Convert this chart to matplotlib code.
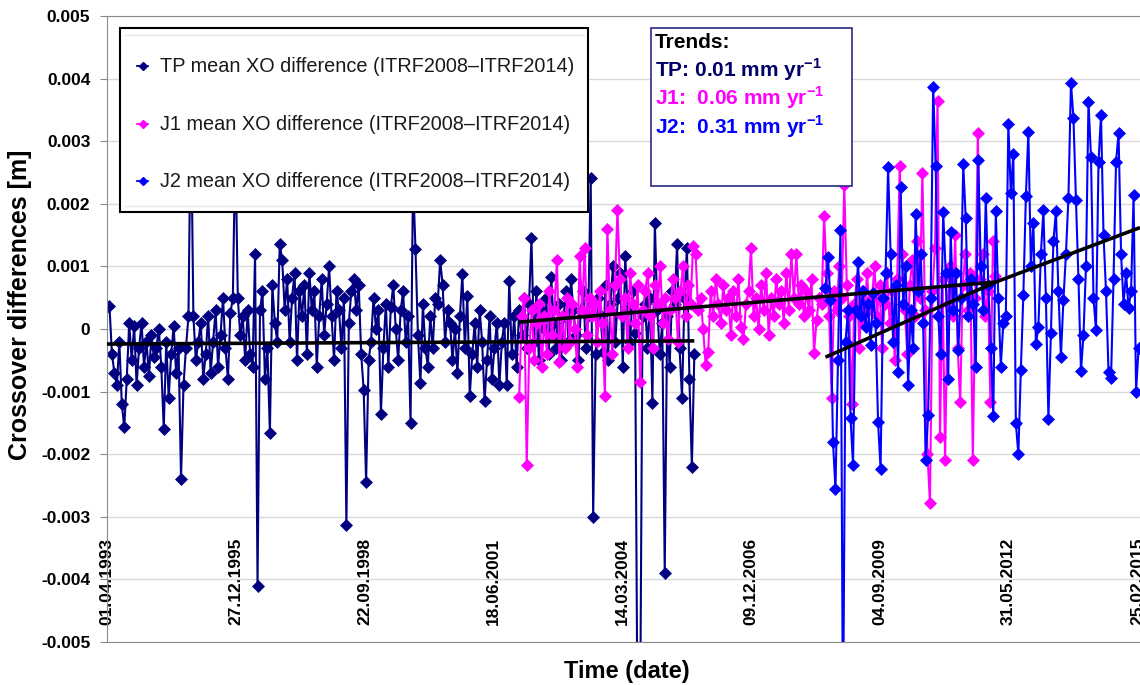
import numpy as np
import pandas as pd
import matplotlib.pyplot as plt
from matplotlib.lines import Line2D
from matplotlib.patches import Rectangle

plt.rcParams['font.family'] = ['Liberation Sans', 'DejaVu Sans']
plt.rcParams['mathtext.fontset'] = 'custom'
plt.rcParams['mathtext.rm'] = 'Liberation Sans'
plt.rcParams['mathtext.bf'] = 'Liberation Sans:bold'

# ---- data (mean crossover differences, in mm) ----
t0 = pd.Timestamp('1993-04-01')
x_end = '2015-03-17'

tp_first, tp_last = '1993-04-01', '2005-09-25'
j1_first, j1_last = '2002-01-04', '2012-02-19'
j2_first, j2_last = '2008-07-09', '2015-03-06'

tp_mm = [
    0.35, 0.37, -0.4, -0.7, -0.9, -0.2, -1.2, -1.57, -0.8, 0.1,
    -0.5, 0.05, -0.9, -0.3, 0.1, -0.6, -0.2, -0.75, -0.1, -0.45,
    -0.3, 0.0, -0.6, -1.6, -0.2, -1.1, -0.4, 0.05, -0.7, -0.3,
    -2.4, -0.9, -0.3, 0.2, 3.6, 0.2, -0.5, -0.2, 0.1, -0.8,
    -0.4, 0.2, -0.7, -0.2, 0.3, -0.6, -0.1, 0.5, -0.3, -0.8,
    0.25, 0.5, 3.0, 0.5, -0.1, 0.2, -0.5, 0.3, -0.4, -0.6,
    1.2, -4.1, 0.3, 0.6, -0.8, -0.3, -1.66, 0.7, 0.1, -0.2,
    1.36, 1.1, 0.3, 0.8, -0.2, 0.5, 0.9, -0.5, 0.6, 0.2,
    0.7, -0.4, 0.9, 0.3, 0.6, -0.6, 0.2, 0.8, -0.1, 0.4,
    1.0, 0.2, -0.5, 0.6, 0.3, -0.3, 0.5, -3.13, 0.1, 0.6,
    0.8, 0.3, 0.7, -0.4, -0.97, -2.44, -0.5, -0.2, 0.5, 0.0,
    0.3, -1.35, -0.3, 0.4, -0.6, 0.35, 0.7, 0.0, -0.5, 0.3,
    0.6, -0.2, 0.2, -1.5, 2.4, 1.28, -0.1, -0.87, 0.4, -0.3,
    -0.6, 0.2, -0.3, 0.5, 0.4, 1.1, 0.7, -0.2, 0.3, 0.1,
    -0.5, 0.0, -0.7, 0.2, 0.88, -0.3, 0.53, -1.07, -0.4, 0.1,
    -0.6, 0.3, -0.2, -1.15, -0.5, 0.2, -0.8, -0.3, 0.1, -0.9,
    -0.2, 0.1, -0.9, 0.77, -0.4, 0.2, -0.6, 0.3, -0.1, 0.5,
    -0.3, 0.4, 1.45, -0.2, 0.6, -0.5, 0.3, 0.0, 0.5, -0.4,
    0.83, 0.1, -0.3, 0.4, -0.5, 0.2, 0.6, -0.2, 0.8, 0.3,
    -0.1, -0.5, 0.3, 0.6, -0.3, 0.2, 2.41, -3.0, -0.4, 0.5,
    0.2, -0.37, 0.7, -0.5, 0.4, 1.0, -0.2, 0.5, 0.9, -0.6,
    1.17, 0.3, -0.2, 0.6, -0.07, -6.5, -6.5, 0.2, 0.4, -0.3,
    0.5, -1.18, 1.7, 0.3, -0.4, 0.1, -3.9, 0.2, -0.6, 0.6,
    0.4, 1.36, -0.3, -1.1, 0.5, 1.3, -0.8, -2.2, -0.4,
]

j1_mm = [
    -1.08, 0.2, 0.5, -2.17, -0.3, 0.3, -0.5, 0.1, 0.4, -0.6,
    0.2, -0.4, 0.6, -0.1, 0.3, 1.1, -0.53, 0.2, -0.3, 0.5,
    -0.2, 0.4, 0.0, -0.6, 1.17, 0.3, 1.3, -0.1, 0.5, 0.2,
    0.4, -0.2, 0.6, 0.1, -1.07, 1.6, 0.3, -0.4, 0.7, 1.9,
    0.8, 0.2, 0.5, -0.3, 0.9, 0.4, 0.1, 0.7, -0.84, 0.3,
    0.6, 0.9, 0.2, -0.3, 0.7, 0.4, 1.0, 0.1, 0.5, -0.16,
    0.3, 0.8, 0.5, -0.2, 0.6, 1.0, 0.2, 0.7, 0.4, 1.33,
    1.2, 0.3, 0.5, 0.0, -0.58, -0.37, 0.6, 0.2, 0.8, 0.4,
    0.1, 0.7, 0.3, 0.5, -0.1, 0.6, 0.2, 0.8, 0.03, -0.16,
    0.4, 0.6, 1.3, 0.2, 0.5, 0.0, 0.7, 0.3, 0.9, -0.1,
    0.5, 0.2, 0.8, 0.4, 0.6, 0.1, 0.9, 0.3, 1.2, 0.5,
    1.2, 0.4, 0.7, 0.2, 0.6, 0.3, 0.8, -0.38, 0.14, 0.5,
    0.4, 1.8, 0.9, 0.2, -1.1, 0.6, 0.3, 1.0, 0.5, 2.3,
    0.7, 0.2, -1.2, 0.4, 0.8, -0.3, 0.6, 0.1, 0.9, 0.3,
    0.5, 1.0, 0.2, 0.7, -0.3, 0.4, 0.9, 0.1, 0.6, -0.5,
    0.8, 2.6, 1.2, 0.3, -0.4, 0.7, 1.1, 0.2, 1.4, 0.5,
    2.5, 0.3, -2.0, -2.78, 0.6, 1.3, 3.65, -1.73, 0.8, -2.1,
    0.4, 1.0, 0.2, 1.5, -0.3, -1.17, 0.7, 1.2, 0.3, 0.9,
    -2.1, 0.5, 3.13, 0.8, 1.2, 0.2, 0.6, -1.17, 1.4, 0.85,
]

j2_mm = [
    0.65, 1.15, 0.46, -1.8, -2.56, -0.5, 1.58, -6.5, -0.2, 0.3,
    -1.42, -2.17, 0.3, 1.07, 0.2, 0.6, 0.03, 0.4, -0.26, 0.57,
    0.1, -1.49, -2.23, 0.5, 0.9, 2.58, 1.2, -0.2, 0.7, -0.68,
    2.27, 0.4, 1.0, -0.9, 0.3, -0.3, 1.83, 0.6, 1.2, 0.1,
    -2.1, -1.37, 0.5, 3.87, 2.6, 0.2, -0.4, 1.87, 0.9, -0.8,
    1.55, 0.3, 0.9, -0.34, 0.5, 2.63, 1.77, 0.2, 0.8, 0.4,
    -0.61, 2.7, 1.0, 0.3, 2.1, 0.7, -0.3, -1.39, 1.88, 0.5,
    -0.6, 0.1, 0.2, 3.27, 2.17, 2.8, -1.5, -2.0, -0.65, 0.54,
    2.12, 3.15, 1.0, 1.7, -0.24, 0.03, 1.2, 1.9, 0.5, -1.43,
    -0.07, 1.4, 1.88, 0.6, -0.44, 0.47, 1.2, 2.1, 3.93, 3.37,
    2.06, 0.8, -0.67, -0.1, 1.0, 3.63, 2.75, 0.5, -0.02, 2.67,
    3.42, 1.5, 0.6, -0.69, -0.79, 0.8, 2.67, 3.13, 1.2, 0.4,
    0.9, 0.33, 0.6, 2.14, -1.0, -0.3,
]

# linear trends (dates, mm)
tp_trend_dates = ['1993-04-01', '2005-09-25']
tp_trend_mm = [-0.24, -0.19]
j1_trend_dates = ['2002-01-04', '2012-02-19']
j1_trend_mm = [0.11, 0.75]
j2_trend_dates = ['2008-07-09', '2012-02-21', '2015-03-17']
j2_trend_mm = [-0.45, 0.75, 1.62]

date_ticks = ['01.04.1993', '27.12.1995', '22.09.1998', '18.06.2001', '14.03.2004',
              '09.12.2006', '04.09.2009', '31.05.2012', '25.02.2015']
y_ticks = [0.005, 0.004, 0.003, 0.002, 0.001, 0, -0.001, -0.002, -0.003, -0.004, -0.005]
y_tick_labels = ['0.005', '0.004', '0.003', '0.002', '0.001', '0',
                 '-0.001', '-0.002', '-0.003', '-0.004', '-0.005']

legend_labels = ['TP mean XO difference (ITRF2008\u2013ITRF2014)',
                 'J1 mean XO difference (ITRF2008\u2013ITRF2014)',
                 'J2 mean XO difference (ITRF2008\u2013ITRF2014)']
trend_lines = ['TP: 0.01 mm yr$^{\\mathbf{-1}}$',
               'J1:  0.06 mm yr$^{\\mathbf{-1}}$',
               'J2:  0.31 mm yr$^{\\mathbf{-1}}$']

c_tp, c_j1, c_j2 = '#000080', '#ff00ff', '#0000ff'


def days(d, fmt='%Y-%m-%d'):
    return (pd.to_datetime(d, format=fmt) - t0) / pd.Timedelta(days=1)


def series_days(first, last, n):
    return np.linspace(days(first), days(last), n)


W, H = 1140, 685
fig = plt.figure(figsize=(11.4, 6.85), dpi=100)
ax = fig.add_axes([107 / W, 1 - 642 / H, 1 - 107 / W, (642 - 16) / H])

for first, last, vals, col in [(tp_first, tp_last, tp_mm, c_tp),
                               (j1_first, j1_last, j1_mm, c_j1),
                               (j2_first, j2_last, j2_mm, c_j2)]:
    x = series_days(first, last, len(vals))
    ax.plot(x, np.array(vals) / 1000, color=col, lw=1.5, marker='D', ms=6,
            mec=col, mew=0.5, zorder=2)

for dts, vals in [(tp_trend_dates, tp_trend_mm), (j1_trend_dates, j1_trend_mm),
                  (j2_trend_dates, j2_trend_mm)]:
    ax.plot(days(dts), np.array(vals) / 1000, color='black', lw=2.6, zorder=4,
            solid_capstyle='butt')

ax.set_xlim(0, days(x_end))
ax.set_ylim(-0.005, 0.005)

ax.set_yticks(y_ticks)
ax.set_yticklabels(y_tick_labels, fontsize=12.5, fontweight='bold')
ax.tick_params(axis='y', length=5, color='#888888', pad=7)

ax.set_xticks(days(date_ticks, fmt='%d.%m.%Y'))
ax.set_xticklabels(date_ticks, rotation=90, fontsize=12.5, fontweight='bold', va='bottom')
ax.tick_params(axis='x', length=0, pad=-12.2)

ax.yaxis.grid(True, color='#d9d9d9', lw=1)
ax.set_axisbelow(True)
for side in ['left', 'bottom', 'top']:
    ax.spines[side].set_color('#8c8c8c')
ax.spines['right'].set_visible(False)

ax.set_ylabel('Crossover differences [m]', fontsize=18, fontweight='bold')
ax.yaxis.set_label_coords(-0.073, 0.538)
ax.set_xlabel('Time (date)', fontsize=17, fontweight='bold')
ax.xaxis.set_label_coords(0.503, -0.028)

# legend box (Excel style)
fig.add_artist(Rectangle((120 / W, 1 - 212 / H), 468 / W, 184 / H, transform=fig.transFigure,
                         fc='white', ec='black', lw=1.5, zorder=5))
for yy in [35, 206]:
    fig.add_artist(Line2D([125 / W, 584 / W], [1 - yy / H] * 2, color='#e6e6e6', lw=1,
                          transform=fig.transFigure, zorder=6))
for lab, col, yy in zip(legend_labels, [c_tp, c_j1, c_j2], [66, 124, 181]):
    fig.add_artist(Line2D([137 / W, 142.5 / W, 148 / W], [1 - yy / H] * 3, color=col, lw=1.3,
                          marker='D', ms=4, markevery=[1], transform=fig.transFigure, zorder=6))
    fig.text(160 / W, 1 - yy / H, lab, fontsize=14.3, va='center', ha='left',
             color='#1a1a1a', zorder=6)

# trends box
fig.add_artist(Rectangle((651 / W, 1 - 186 / H), 201 / W, 158 / H, transform=fig.transFigure,
                         fc='white', ec='#2a2a8a', lw=1.2, zorder=5))
fig.text(655 / W, 1 - 42 / H, 'Trends:', fontsize=15, fontweight='bold', va='center',
         color='black', zorder=6)
for txt, col, yy in zip(trend_lines, ['#000066', c_j1, c_j2], [70, 98, 127]):
    fig.text(655 / W, 1 - yy / H, txt, fontsize=15, fontweight='bold', va='center',
             color=col, zorder=6)

fig.savefig('out.png', dpi=100)
